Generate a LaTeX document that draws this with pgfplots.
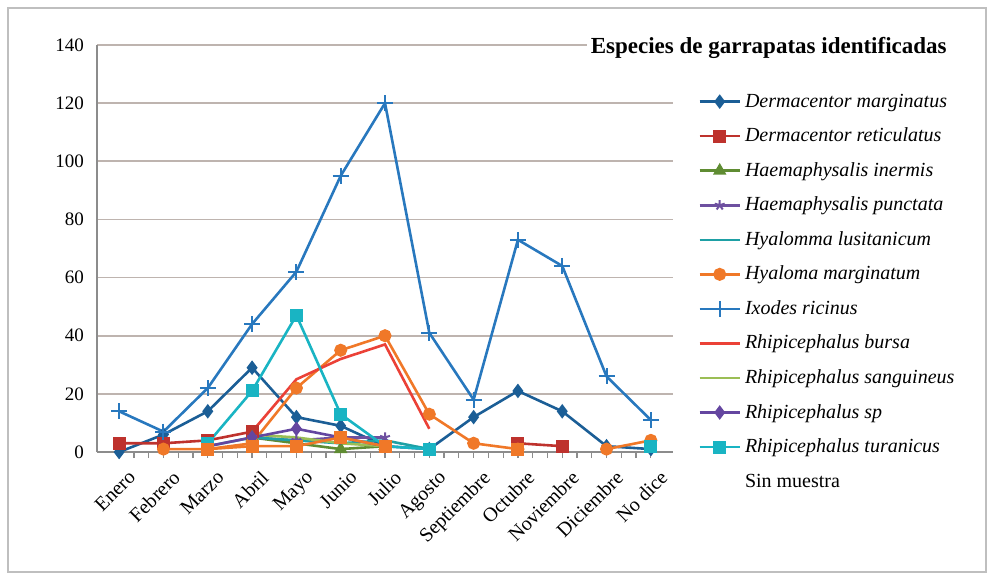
\documentclass[border=0pt]{standalone}
\usepackage{pgfplots}
\pgfplotsset{compat=1.18}
\usepackage{pgfplotstable}
\usepackage{fontspec}
\setmainfont{Liberation Serif}

\definecolor{cDM}{RGB}{27,94,150}
\definecolor{cDR}{RGB}{190,50,45}
\definecolor{cHI}{RGB}{95,140,50}
\definecolor{cHP}{RGB}{110,80,160}
\definecolor{cHL}{RGB}{30,160,165}
\definecolor{cHMa}{RGB}{240,120,40}
\definecolor{cIR}{RGB}{40,120,190}
\definecolor{cRB}{RGB}{235,65,55}
\definecolor{cRS}{RGB}{155,190,85}
\definecolor{cRSP}{RGB}{100,70,160}
\definecolor{cRT}{RGB}{25,180,195}
\definecolor{cGrid}{RGB}{190,180,175}

\pgfplotstableread{
x  DM  DR  HI  HP  HL  HMa IR  RB  RS  RSP RT  SM
0  0   3   nan nan nan nan 14  nan nan nan nan nan
1  6   3   nan nan nan 1   7   nan nan nan nan nan
2  14  4   nan nan 2   1   22  nan nan 2   3   1
3  29  7   5   5   5   3   44  7   6   5   21  2
4  12  nan 3   4   4   22  62  25  5   8   47  2
5  9   nan 1   5   3   35  95  32  3   5   13  5
6  2   nan 2   5   4   40  120 37  2   2   2   2
7  1   nan nan nan 1   13  41  8   nan nan 1   nan
8  12  nan nan nan nan 3   18  nan nan nan nan nan
9  21  3   nan nan nan 1   73  nan nan nan nan 1
10 14  2   nan nan nan nan 64  nan nan nan nan nan
11 2   nan nan nan nan 1   26  nan nan nan nan nan
12 1   nan nan nan nan 4   11  nan nan nan 2   nan
}\ticks

\begin{document}
\begin{tikzpicture}
\path[use as bounding box] (-48.5pt,-63.5pt) rectangle (448.5pt,226pt);
\draw[black!25, line width=0.6pt] (-44.5pt,-60pt) rectangle (444.5pt,222pt);
\begin{axis}[
  at={(0pt,0pt)}, anchor=south west,
  scale only axis,
  width=288pt, height=203.5pt,
  xmin=-0.5, xmax=12.5,
  ymin=0, ymax=140,
  ytick={0,20,...,140},
  xtick={0,...,12},
  xticklabels={Enero,Febrero,Marzo,Abril,Mayo,Junio,Julio,Agosto,Septiembre,Octubre,Noviembre,Diciembre,No dice},
  xticklabel style={xshift=4pt, yshift=-4pt, rotate=45, anchor=north east, font=\fontsize{10}{12}\selectfont, inner sep=1pt},
  yticklabel style={font=\fontsize{9.5}{11}\selectfont},
  /pgf/number format/assume math mode=true,
  axis lines*=left,
  axis line style={black!45, line width=0.8pt},
  ymajorgrids,
  major grid style={cGrid, line width=0.9pt},
  major y tick style={draw=none},
  minor x tick num=2,
  x tick style={black!45, line width=0.6pt},
  major tick length=3pt, minor tick length=3pt,
  tick align=outside,
  unbounded coords=jump,
  every axis plot/.append style={line width=1.3pt, mark size=2.6pt},
  legend image code/.code={\draw[mark repeat=2,mark phase=2,#1] plot coordinates {(0pt,0pt)(10pt,0pt)(20pt,0pt)};},
  legend style={at={(1.033,0.895)}, anchor=north west, draw=none, fill=none,
    font=\itshape\fontsize{10}{12}\selectfont,
    nodes={inner ysep=0pt, inner xsep=2pt, text height=7.5pt, text depth=2pt},
    row sep=7.77pt},
  legend cell align=left,
]
\addplot[cDM, mark=diamond*] table[x=x,y=DM]{\ticks};
\addlegendentry{Dermacentor marginatus}
\addplot[cDR, mark=square*] table[x=x,y=DR]{\ticks};
\addlegendentry{Dermacentor reticulatus}
\addplot[cHI, mark=triangle*] table[x=x,y=HI]{\ticks};
\addlegendentry{Haemaphysalis inermis}
\addplot[cHP, mark=star, mark options={line width=1pt}] table[x=x,y=HP]{\ticks};
\addlegendentry{Haemaphysalis punctata}
\addplot[cHL, mark=none] table[x=x,y=HL]{\ticks};
\addlegendentry{Hyalomma lusitanicum}
\addplot[cHMa, mark=*] table[x=x,y=HMa]{\ticks};
\addlegendentry{Hyaloma marginatum}
\addplot[cIR, mark=+, mark options={line width=1pt}, mark size=4pt] table[x=x,y=IR]{\ticks};
\addlegendentry{Ixodes ricinus}
\addplot[cRB, mark=none] table[x=x,y=RB]{\ticks};
\addlegendentry{Rhipicephalus bursa}
\addplot[cRS, mark=none] table[x=x,y=RS]{\ticks};
\addlegendentry{Rhipicephalus sanguineus}
\addplot[cRSP, mark=diamond*] table[x=x,y=RSP]{\ticks};
\addlegendentry{Rhipicephalus sp}
\addplot[cRT, mark=square*] table[x=x,y=RT]{\ticks};
\addlegendentry{Rhipicephalus turanicus}
\addplot[cHMa, mark=square*, forget plot] table[x=x,y=SM]{\ticks};
\addlegendimage{empty legend}
\addlegendentry{\upshape Sin muestra}
\end{axis}
\node[anchor=east, fill=white, inner sep=2pt, font=\bfseries\fontsize{11.5}{13}\selectfont] at (427pt,202pt) {Especies de garrapatas identificadas};
\end{tikzpicture}
\end{document}
